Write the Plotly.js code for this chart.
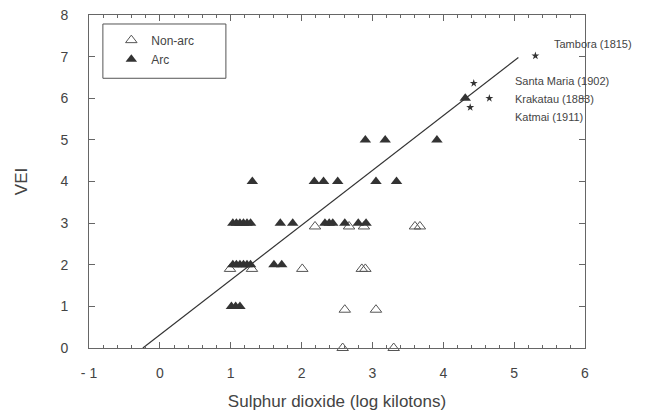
<!DOCTYPE html>
<html>
<head>
<meta charset="utf-8">
<script src="https://cdn.plot.ly/plotly-3.0.1.min.js"></script>
<style>html,body{margin:0;padding:0;background:#fff;}#chart{width:649px;height:411px;}</style>
</head>
<body>
<div id="chart"></div>
<script>
// Non-arc volcanoes (open triangles)
const nonArcX = [2.58, 3.30, 2.61, 3.05, 0.99, 1.30, 2.01, 2.85, 2.90, 2.19, 2.67, 2.88, 3.60, 3.67];
const nonArcY = [0, 0, 0.92, 0.92, 1.9, 1.9, 1.9, 1.9, 1.9, 2.92, 2.92, 2.92, 2.92, 2.92];

// Arc volcanoes (filled triangles)
const arcX = [1.01, 1.07, 1.13,
              1.03, 1.08, 1.13, 1.18, 1.23, 1.28, 1.61, 1.72,
              1.03, 1.08, 1.13, 1.18, 1.23, 1.28, 1.70, 1.875, 2.33, 2.39, 2.44, 2.61, 2.80, 2.91,
              1.305, 2.18, 2.31, 2.51, 3.05, 3.34,
              2.90, 3.18, 3.91,
              4.31];
const arcY = [1, 1, 1,
              2, 2, 2, 2, 2, 2, 2, 2,
              3, 3, 3, 3, 3, 3, 3, 3, 3, 3, 3, 3, 3, 3,
              4, 4, 4, 4, 4, 4,
              5, 5, 5,
              6];

// Historic eruptions (stars)
const starNames = ["Tambora (1815)", "Santa Maria (1902)", "Krakatau (1883)", "Katmai (1911)"];
const starX = [5.30, 4.43, 4.65, 4.38];
const starY = [7.02, 6.36, 6.00, 5.78];
// label anchor positions for the star names
const labelX = [5.53, 4.98, 4.98, 4.98];
const labelY = [7.30, 6.42, 5.98, 5.56];

// Fitted line
const fitX = [-0.24, 5.06];
const fitY = [0, 6.98];

// Tick labels
const xTickVals = [-1, 0, 1, 2, 3, 4, 5, 6];
const xTickText = ["- 1", "0", "1", "2", "3", "4", "5", "6"];
const yTickVals = [0, 1, 2, 3, 4, 5, 6, 7, 8];
const yTickText = ["0", "1", "2", "3", "4", "5", "6", "7", "8"];

const textColor = "#444";
const axisColor = "#666";
const font = "Liberation Sans, Arial, sans-serif";

const traces = [
  {
    x: fitX, y: fitY, mode: "lines", type: "scatter", showlegend: false,
    line: {color: "#333", width: 1.2}, hoverinfo: "skip"
  },
  {
    x: nonArcX, y: nonArcY, mode: "markers", type: "scatter", name: "Non-arc",
    cliponaxis: false,
    marker: {symbol: "triangle-up-open", size: 10, color: "#555", line: {width: 1, color: "#555"}}
  },
  {
    x: arcX, y: arcY, mode: "markers", type: "scatter", name: "Arc",
    cliponaxis: false,
    marker: {symbol: "triangle-up", size: 10, color: "#333", line: {width: 0}}
  },
  {
    x: starX, y: starY, mode: "markers", type: "scatter", showlegend: false,
    text: starNames,
    marker: {symbol: "star", size: 6, color: "#333"}
  }
];

const annotations = starNames.map((n, i) => ({
  x: labelX[i], y: labelY[i], xref: "x", yref: "y", text: n, showarrow: false,
  xanchor: "left", yanchor: "middle",
  font: {family: font, size: 11, color: textColor}
}));

const axisCommon = {
  showgrid: false, zeroline: false, showline: true, linecolor: axisColor, linewidth: 1,
  mirror: "allticks", ticks: "inside", ticklen: 6, tickcolor: axisColor, tickwidth: 1,
  tickfont: {family: font, size: 14, color: textColor}
};

const layout = {
  width: 649, height: 411,
  margin: {l: 89, r: 64, t: 15, b: 63},
  paper_bgcolor: "#fff", plot_bgcolor: "#fff",
  showlegend: true,
  legend: {
    x: 0.045, y: 0.968, xanchor: "left", yanchor: "top",
    bgcolor: "rgba(0,0,0,0)", borderwidth: 0,
    font: {family: font, size: 12, color: textColor},
    itemwidth: 30, tracegroupgap: 0
  },
  shapes: [{
    type: "rect", xref: "paper", yref: "paper",
    x0: 0.028, x1: 0.276, y0: 0.81, y1: 0.973,
    line: {color: "#555", width: 1}, fillcolor: "rgba(0,0,0,0)"
  }],
  annotations: annotations,
  xaxis: Object.assign({}, axisCommon, {
    range: [-1, 6], tickvals: xTickVals, ticktext: xTickText,
    minor: {dtick: 0.2, tick0: 0, ticks: "inside", ticklen: 3, tickcolor: axisColor, tickwidth: 1, showgrid: false},
    ticklabelstandoff: 12,
    title: {text: "Sulphur dioxide (log kilotons)", font: {family: font, size: 17, color: textColor}, standoff: 16}
  }),
  yaxis: Object.assign({}, axisCommon, {
    range: [0, 8], tickvals: yTickVals, ticktext: yTickText,
    ticklabelstandoff: 17,
    title: {text: "VEI", font: {family: font, size: 17, color: textColor}, standoff: 28}
  })
};

Plotly.newPlot("chart", traces, layout, {displayModeBar: false, staticPlot: true});
</script>
</body>
</html>
